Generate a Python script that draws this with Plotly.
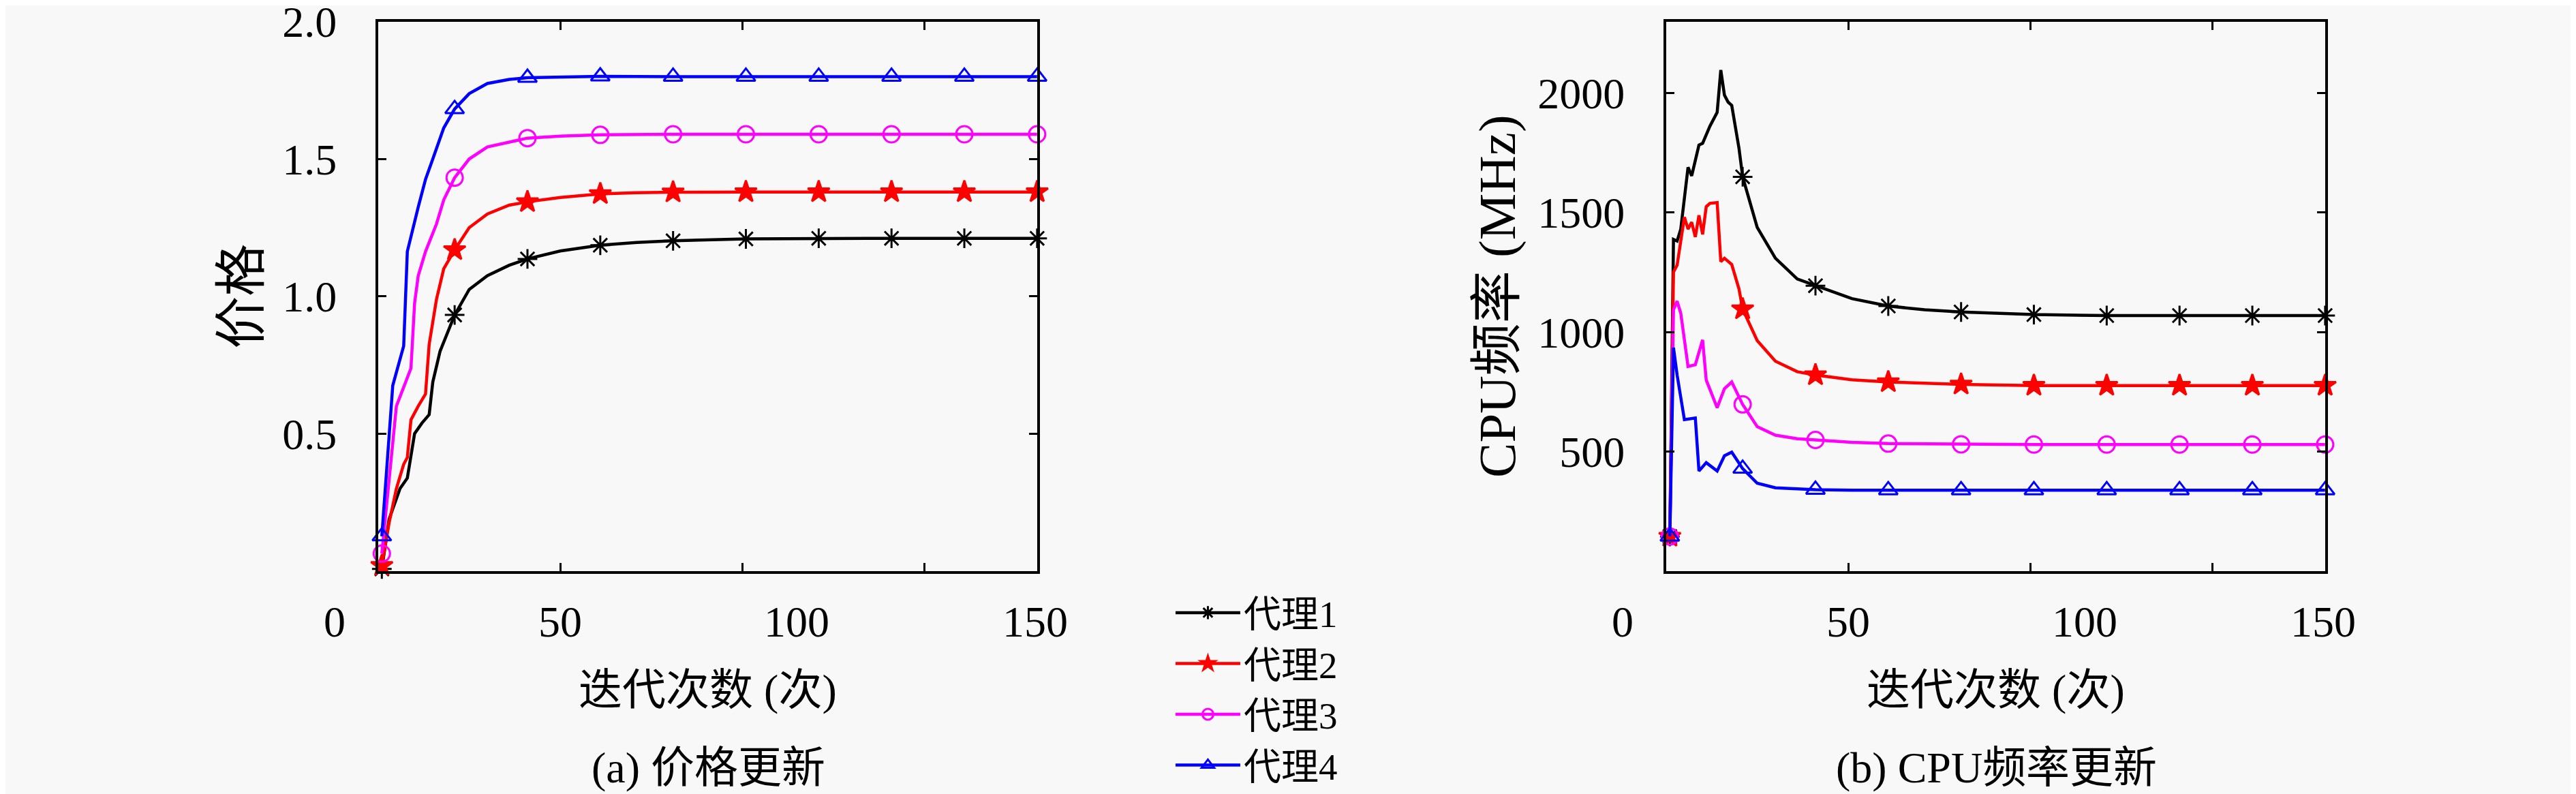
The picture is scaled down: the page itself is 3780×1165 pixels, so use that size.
import plotly.graph_objects as go

# agents
names = ["代理1", "代理2", "代理3", "代理4"]
colors = ["black", "red", "magenta", "blue"]
symbols = ["asterisk-open", "star", "circle-open", "triangle-up-open"]

# (a) price update -- iteration index on the figure's own x scale
px_1 = [1, 3, 6, 8, 10, 12, 14, 15, 17, 21, 25, 30, 36, 41, 50, 61, 71, 81, 101, 121, 141, 161, 181]
py_1 = [0.007, 0.188, 0.30, 0.338, 0.50, 0.538, 0.569, 0.688, 0.80, 0.932, 1.025, 1.075, 1.113, 1.136,
        1.165, 1.186, 1.196, 1.202, 1.209, 1.211, 1.211, 1.211, 1.211]
px_2 = [1, 3, 5, 7, 8, 9, 11, 13, 14, 16, 18, 21, 25, 30, 36, 41, 50, 61, 71, 81, 101, 121, 141, 161, 181]
py_2 = [0.019, 0.175, 0.30, 0.388, 0.413, 0.55, 0.60, 0.644, 0.825, 0.988, 1.10, 1.169, 1.25, 1.30, 1.332,
        1.344, 1.36, 1.373, 1.377, 1.379, 1.38, 1.38, 1.38, 1.38, 1.38]
px_3 = [1, 5, 9, 10, 11, 13, 16, 18, 21, 25, 30, 36, 41, 50, 61, 81, 101, 121, 141, 161, 181]
py_3 = [0.063, 0.600, 0.738, 0.975, 1.075, 1.163, 1.263, 1.351, 1.432, 1.50, 1.544, 1.563, 1.576, 1.583,
        1.588, 1.59, 1.59, 1.59, 1.59, 1.59, 1.59]
px_4 = [1, 4, 7, 8, 11, 13, 15, 18, 21, 25, 30, 36, 41, 50, 61, 81, 101, 121, 141, 161, 181]
py_4 = [0.126, 0.675, 0.819, 1.163, 1.325, 1.426, 1.50, 1.613, 1.682, 1.738, 1.775, 1.79, 1.796, 1.799,
        1.801, 1.80, 1.80, 1.80, 1.80, 1.80, 1.80]

# (b) CPU frequency update (MHz)
fx_1 = [1, 2, 3, 4, 6, 7, 9, 10, 12, 14, 15, 16, 17, 18, 20, 21, 25, 30, 36, 41, 51, 61, 71, 81, 101, 121,
        141, 161, 181]
fy_1 = [144, 1388, 1381, 1431, 1690, 1654, 1783, 1790, 1862, 1920, 2097, 1992, 1963, 1949, 1769, 1650,
        1438, 1309, 1222, 1194, 1140, 1109, 1093, 1084, 1073, 1069, 1069, 1069, 1069]
fx_2 = [1, 2, 3, 5, 6, 7, 8, 9, 10, 11, 12, 14, 15, 16, 18, 20, 21, 25, 30, 36, 41, 51, 61, 81, 101, 121,
        141, 161, 181]
fy_2 = [144, 1251, 1280, 1481, 1431, 1460, 1398, 1489, 1409, 1525, 1539, 1542, 1295, 1309, 1283, 1180,
        1096, 964, 878, 834, 820, 800, 791, 781, 776, 776, 776, 776, 776]
fx_3 = [1, 2, 3, 4, 6, 8, 10, 11, 14, 16, 18, 21, 25, 30, 36, 41, 51, 61, 81, 101, 121, 141, 161, 181]
fy_3 = [144, 1093, 1129, 1079, 856, 863, 967, 799, 683, 763, 791, 697, 604, 568, 553, 548, 538, 533,
        530, 529, 529, 529, 529, 529]
fx_4 = [1, 2, 3, 5, 8, 9, 11, 14, 16, 18, 21, 25, 30, 41, 51, 61, 81, 101, 121, 141, 161, 181]
fy_4 = [144, 935, 820, 633, 640, 418, 453, 418, 482, 497, 428, 367, 348, 340, 338, 338, 338, 338, 338,
        338, 338, 338]

# tick labels printed under the x axes (the original figure's labels sit off its tick marks)
xtick_text = ["0", "50", "100", "150"]

price = [(px_1, py_1), (px_2, py_2), (px_3, py_3), (px_4, py_4)]
freq = [(fx_1, fy_1), (fx_2, fy_2), (fx_3, fy_3), (fx_4, fy_4)]

FONT = "Liberation Serif, Noto Sans CJK SC, serif"
FS = 64
XMAX = 181
# small shift to make up for the page's body margin
DX, DY = -0.0021, 0.0055

fig = go.Figure()

for panel, (xa, ya) in [(price, ("x", "y")), (freq, ("x2", "y2"))]:
    for i, (xs, ys) in enumerate(panel):
        fig.add_trace(go.Scatter(x=xs, y=ys, mode="lines", xaxis=xa, yaxis=ya,
                                 line=dict(color=colors[i], width=4.5), showlegend=False,
                                 hoverinfo="skip"))
        # markers every 20 iterations
        mx = [x for x in xs if (x - 1) % 20 == 0]
        my = [y for x, y in zip(xs, ys) if (x - 1) % 20 == 0]
        fig.add_trace(go.Scatter(x=mx, y=my, mode="markers", xaxis=xa, yaxis=ya,
                                 marker=dict(symbol=symbols[i], size=24, color=colors[i],
                                             line=dict(color=colors[i], width=3)),
                                 showlegend=False, cliponaxis=False))

# legend entries
for i in range(4):
    fig.add_trace(go.Scatter(x=[None], y=[None], mode="lines+markers", name=names[i],
                             line=dict(color=colors[i], width=4.5),
                             marker=dict(symbol=symbols[i], size=16, color=colors[i],
                                         line=dict(color=colors[i], width=3))))

axis_common = dict(showline=True, linecolor="black", linewidth=4, mirror="ticks", ticks="inside",
                   ticklen=12, tickwidth=3, tickcolor="black", showgrid=False, zeroline=False,
                   automargin=False, tickfont=dict(family=FONT, size=FS, color="black"))
x_common = dict(axis_common, range=[0, XMAX], tickvals=[50, 100, 150], showticklabels=False,
                title=dict(text="迭代次数 (次)", font=dict(family=FONT, size=FS, color="black"),
                           standoff=150))
y_common = dict(axis_common, domain=[0.2824 + DY, 0.9742 + DY], ticklabelstandoff=44,
                ticklabeloverflow="allow")

fig.update_layout(
    width=3780, height=1165,
    paper_bgcolor="#f8f8f8", plot_bgcolor="#f8f8f8",
    margin=dict(l=0, r=0, t=0, b=0),
    font=dict(family=FONT, size=FS, color="black"),
    xaxis=dict(x_common, domain=[0.1468 + DX, 0.4026 + DX], anchor="y"),
    xaxis2=dict(x_common, domain=[0.6468 + DX, 0.9026 + DX], anchor="y2"),
    yaxis=dict(y_common, anchor="x", range=[0, 2.0005],
               tickvals=[0.5, 1.0, 1.5, 2.0], tickformat=".1f",
               title=dict(text="价格", standoff=8)),
    yaxis2=dict(y_common, anchor="x2", range=[0, 2300],
                tickvals=[500, 1000, 1500, 2000],
                title=dict(text="CPU频率 (MHz)", standoff=8)),
    legend=dict(x=0.455 + DX, y=0.266 + DY, xanchor="left", yanchor="top", bgcolor="rgba(0,0,0,0)",
                font=dict(family=FONT, size=55), itemwidth=95, tracegroupgap=0),
)

# x tick labels (drawn under the axes as in the original figure)
label_pos = [-12, 50, 115, 180.4]
for xa in ["x", "x2"]:
    for t, p in zip(xtick_text, label_pos):
        fig.add_annotation(x=p / XMAX, xref=xa + " domain", y=0.218 + DY, yref="paper", text=t,
                           showarrow=False, xanchor="center", yanchor="middle",
                           font=dict(family=FONT, size=FS))

fig.add_annotation(x=0.2751 + DX, y=0.0343 + DY, xref="paper", yref="paper", text="(a) 价格更新",
                   showarrow=False, xanchor="center", yanchor="middle",
                   font=dict(family=FONT, size=FS))
fig.add_annotation(x=0.7751 + DX, y=0.0343 + DY, xref="paper", yref="paper", text="(b) CPU频率更新",
                   showarrow=False, xanchor="center", yanchor="middle",
                   font=dict(family=FONT, size=FS))

fig.write_html("out.html")
